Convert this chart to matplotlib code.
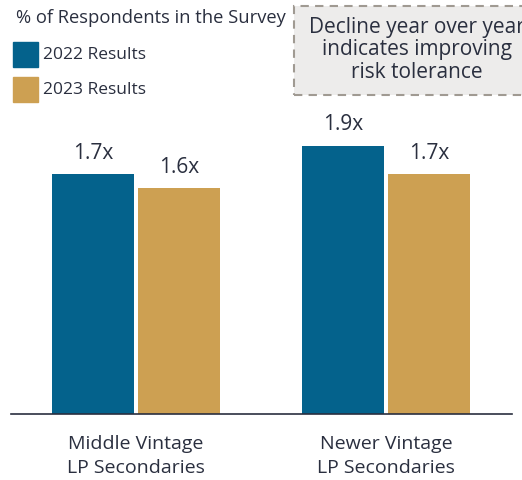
import matplotlib
matplotlib.use("Agg")
import matplotlib.pyplot as plt
from matplotlib.patches import Rectangle

categories = ["Middle Vintage\nLP Secondaries", "Newer Vintage\nLP Secondaries"]
series_names = ["2022 Results", "2023 Results"]
values_2022 = [1.7, 1.9]
values_2023 = [1.6, 1.7]
labels_2022 = ["1.7x", "1.9x"]
labels_2023 = ["1.6x", "1.7x"]

c2022 = "#04628C"
c2023 = "#CDA052"
txt = "#2A2F3F"
font = "Open Sans"
plt.rcParams['font.family'] = [font, 'DejaVu Sans']

W, H = 522, 480
fig = plt.figure(figsize=(W/100, H/100), dpi=100)
ax = fig.add_axes([11/W, 1-414/H, (512-11)/W, 314/H])
x = [0, 1]
bw = 0.328
off = 0.172
b1 = ax.bar([i - off for i in x], values_2022, bw, color=c2022)
b2 = ax.bar([i + off for i in x], values_2023, bw, color=c2023)
for bars, labs in ((b1, labels_2022), (b2, labels_2023)):
    for r, l in zip(bars, labs):
        ax.text(r.get_x() + r.get_width()/2, r.get_height() + 0.075, l,
                ha="center", va="bottom", fontsize=15, color=txt)
ax.set_xlim(-0.5, 1.504)
ax.set_ylim(0, 314/141.1)
for s in ["top", "right", "left"]:
    ax.spines[s].set_visible(False)
ax.spines["bottom"].set_color("#2A2F3F")
ax.spines["bottom"].set_linewidth(1.2)
ax.set_yticks([])
ax.set_xticks(x)
ax.set_xticklabels(categories, fontsize=14, color=txt, linespacing=1.45)
ax.tick_params(axis="x", length=0, pad=15)

# title and legend
fig.text(16/W, 1-18/H, "% of Respondents in the Survey", fontsize=13.2, color=txt,
         ha="left", va="center")
for i, (name, col) in enumerate(zip(series_names, [c2022, c2023])):
    y0 = 42 + i*35
    fig.patches.append(Rectangle((13/W, 1-(y0+25)/H), 25/W, 25/H, color=col,
                                 transform=fig.transFigure, figure=fig))
    fig.text(43/W, 1-(y0+13)/H, name, fontsize=12.5, color=txt, ha="left", va="center")

# annotation box
fig.patches.append(Rectangle((294/W, 1-95/H), 240/W, 89/H, facecolor="#EDECEB",
                             edgecolor="#A09A92", linestyle=(0, (4, 3)), linewidth=1.5,
                             transform=fig.transFigure, figure=fig))
fig.text(417/W, 1-50/H, "Decline year over year\nindicates improving\nrisk tolerance",
         fontsize=15, color=txt, ha="center", va="center", linespacing=1.1)

fig.savefig("out.png", dpi=100)
